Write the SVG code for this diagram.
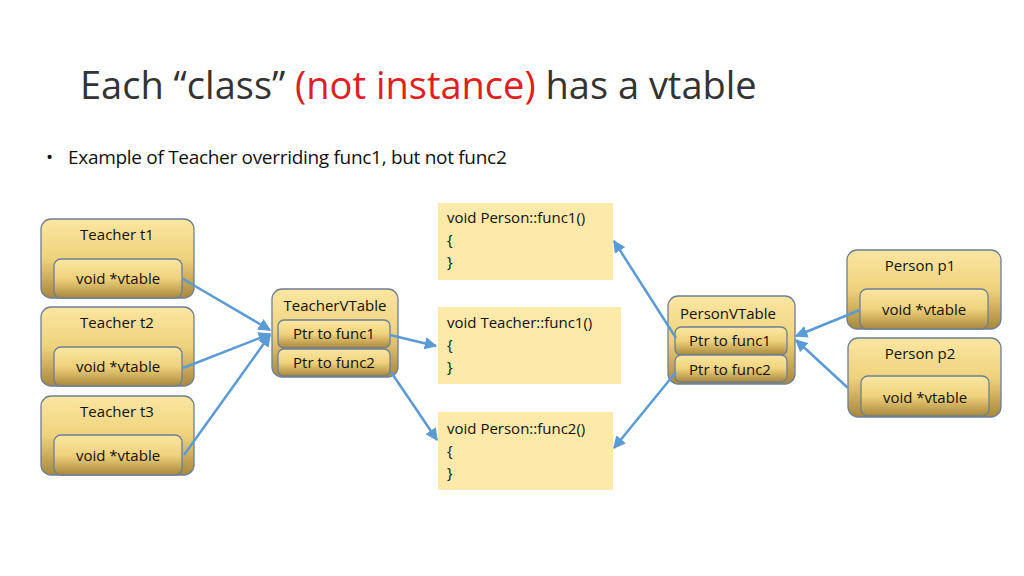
<svg xmlns="http://www.w3.org/2000/svg" width="1024" height="576" viewBox="0 0 1024 576">
<defs>
<linearGradient id="g" x1="0" y1="0" x2="0" y2="1"><stop offset="0" stop-color="#fbe7a2"/><stop offset="0.5" stop-color="#efd27c"/><stop offset="1" stop-color="#a8883c"/></linearGradient>
<marker id="a" viewBox="0 0 10 10" refX="9" refY="5" markerWidth="5" markerHeight="5" orient="auto"><path d="M0,0L10,5L0,10z" fill="#5b9bd5"/></marker>
<style>
.o{fill:url(#g);stroke:#6d7f95;stroke-width:1.3}
.c{fill:#fde9a9}
text{font-family:"Open Sans","Liberation Sans",sans-serif;font-size:15px;fill:#111}
.m{text-anchor:middle}
.l{stroke:#5b9bd5;stroke-width:2.5;fill:none;marker-end:url(#a)}
</style>
</defs>
<rect width="1024" height="576" fill="#fff"/>
<text x="80" y="99" style="font-size:38px;fill:#333">Each “class” <tspan fill="#e02020">(not instance)</tspan> has a vtable</text>
<text x="46" y="164" style="font-size:19px">•</text>
<text x="68" y="164" style="font-size:19px;letter-spacing:-0.3px">Example of Teacher overriding func1, but not func2</text>
<g id="t1"><rect class="o" x="41" y="219" width="153" height="79" rx="10"/><rect class="o" x="54" y="259" width="128" height="39" rx="7"/><text class="m" x="117" y="240">Teacher t1</text><text class="m" x="118" y="284">void *vtable</text></g>
<g id="t2"><rect class="o" x="41" y="307" width="153" height="79" rx="10"/><rect class="o" x="54" y="347" width="128" height="39" rx="7"/><text class="m" x="117" y="328">Teacher t2</text><text class="m" x="118" y="372">void *vtable</text></g>
<g id="t3"><rect class="o" x="41" y="396" width="153" height="79" rx="10"/><rect class="o" x="54" y="435" width="128" height="40" rx="7"/><text class="m" x="117" y="417">Teacher t3</text><text class="m" x="118" y="461">void *vtable</text></g>
<g id="tv"><rect class="o" x="272" y="289" width="126" height="88" rx="10"/><text class="m" x="335" y="311">TeacherVTable</text><rect class="o" x="278" y="320" width="112" height="28" rx="6"/><text class="m" x="334" y="339">Ptr to func1</text><rect class="o" x="278" y="349" width="112" height="27" rx="6"/><text class="m" x="334" y="368">Ptr to func2</text></g>
<g id="pf1"><rect class="c" x="438" y="203" width="175" height="77"/><text x="447" y="223">void Person::func1()</text><text x="447" y="245">{</text><text x="447" y="267">}</text></g>
<g id="tf1"><rect class="c" x="438" y="307" width="183" height="77"/><text x="447" y="328">void Teacher::func1()</text><text x="447" y="350">{</text><text x="447" y="372">}</text></g>
<g id="pf2"><rect class="c" x="438" y="412" width="175" height="78"/><text x="447" y="434">void Person::func2()</text><text x="447" y="456">{</text><text x="447" y="478">}</text></g>
<g id="pv"><rect class="o" x="668" y="296" width="127" height="88" rx="10"/><text class="m" x="728" y="319">PersonVTable</text><rect class="o" x="675" y="327" width="112" height="28" rx="6"/><text class="m" x="730" y="346">Ptr to func1</text><rect class="o" x="675" y="355" width="112" height="27" rx="6"/><text class="m" x="730" y="375">Ptr to func2</text></g>
<g id="p1"><rect class="o" x="847" y="250" width="154" height="79" rx="10"/><rect class="o" x="860" y="289" width="128" height="40" rx="7"/><text class="m" x="920" y="271">Person p1</text><text class="m" x="924" y="315">void *vtable</text></g>
<g id="p2"><rect class="o" x="848" y="338" width="153" height="79" rx="10"/><rect class="o" x="861" y="376" width="128" height="40" rx="7"/><text class="m" x="920" y="359">Person p2</text><text class="m" x="925" y="403">void *vtable</text></g>
<g id="connectors">
<path class="l" d="M183,279L270,330"/>
<path class="l" d="M183,368L270,334"/>
<path class="l" d="M184,455L270,335"/>
<path class="l" d="M390,335L436,346"/>
<path class="l" d="M391,372L437,440"/>
<path class="l" d="M676,338L614,241"/>
<path class="l" d="M676,372L614,448"/>
<path class="l" d="M860,310L796,336"/>
<path class="l" d="M848,388L796,340"/>
</g>
</svg>
